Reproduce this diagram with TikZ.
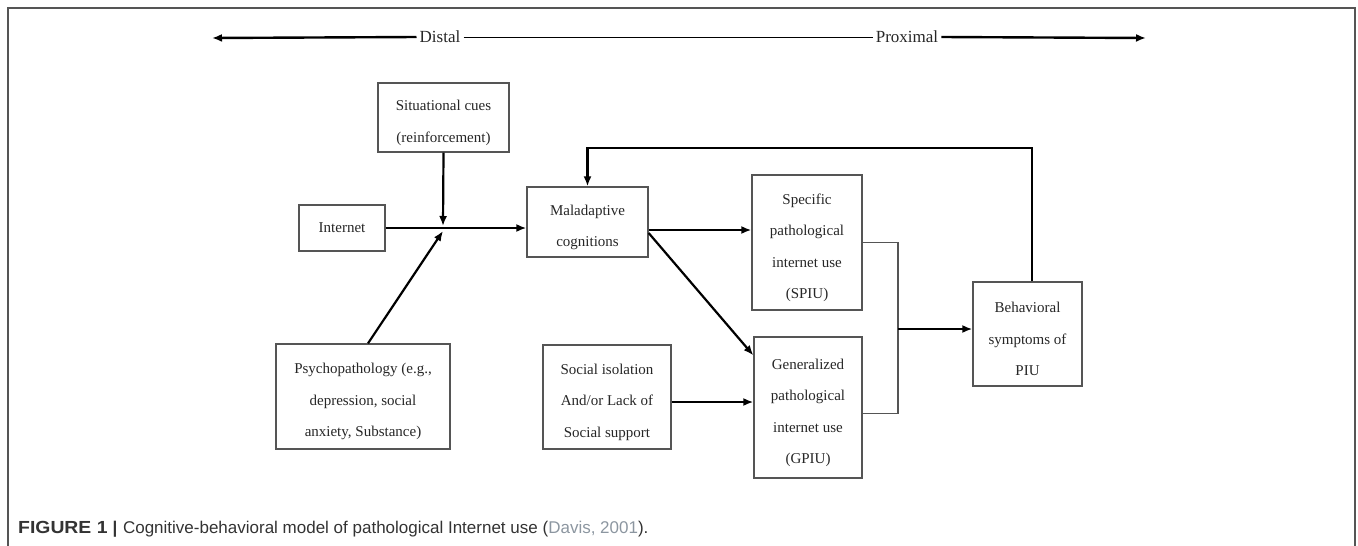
\documentclass[tikz,border=0pt]{standalone}
\usepackage{fontspec}
\setmainfont{Liberation Serif}
\newfontfamily\capfont{Liberation Sans}
\usetikzlibrary{arrows.meta,calc}
\definecolor{boxgray}{HTML}{555555}
\definecolor{framegray}{HTML}{555555}
\definecolor{capgray}{HTML}{333333}
\definecolor{citegray}{HTML}{8C96A0}
\newcommand{\tstrut}{\rule{0pt}{21pt}}
\begin{document}
\begin{tikzpicture}[x=1pt,y=-1pt,
  box/.style={draw=boxgray,line width=1.3pt,align=center,inner sep=0pt,
    font=\fontsize{15}{31.5}\selectfont,text=black!85},
  arr/.style={line width=2.2pt,-{Latex[length=10pt,width=8pt]}},
  thinline/.style={draw=boxgray,line width=1.3pt},
  headarr/.style={line width=2.4pt,-{Latex[length=10pt,width=8pt]}},
  lbl/.style={font=\fontsize{17}{20}\selectfont,inner sep=3pt,text=black!85}
]
\useasboundingbox (0,0) rectangle (1358,546);
% frame
\draw[framegray,line width=2pt] (8,546) -- (8,8) -- (1355,8) -- (1355,546);

% distal / proximal axis
\node[lbl] (distal) at (440,37) {Distal};
\node[lbl] (prox) at (907,37) {Proximal};
\coordinate (axL) at (212,38);
\coordinate (axR) at (1146,38);
\draw[headarr] (distal.west) -- (axL);
\draw[line width=1pt] (distal.east) -- (prox.west);
\draw[headarr] (prox.east) -- (axR);

% boxes
\node[box,minimum width=131pt,minimum height=69pt] (sit) at (443.5,117.5) {\tstrut Situational cues\\(reinforcement)};
\node[box,minimum width=86pt,minimum height=46pt] (inet) at (342,228) {Internet};
\node[box,minimum width=121pt,minimum height=70pt] (mal) at (587.5,222) {\tstrut Maladaptive\\cognitions};
\node[box,minimum width=174pt,minimum height=105pt] (psy) at (363,396.5) {\tstrut Psychopathology (e.g.,\\depression, social\\anxiety, Substance)};
\node[box,minimum width=128pt,minimum height=104pt] (soc) at (607,397) {\tstrut Social isolation\\And/or Lack of\\Social support};
\node[box,minimum width=110pt,minimum height=135pt] (spiu) at (807,242.5) {\tstrut Specific\\pathological\\internet use\\(SPIU)};
\node[box,minimum width=108pt,minimum height=141pt] (gpiu) at (808,407.5) {\tstrut Generalized\\pathological\\internet use\\(GPIU)};
\node[box,minimum width=109pt,minimum height=104pt] (beh) at (1027.5,334) {\tstrut Behavioral\\symptoms of\\PIU};

% junction
\coordinate (J) at (443,227);
\draw[arr] (sit.south) -- ($(J)+(0,-1)$);
\draw[arr] (inet.east) -- (inet.east -| mal.west);
\draw[arr] ([xshift=5pt]psy.north) -- ($(J)+(0,4)$);

% maladaptive outputs
\path ([yshift=-8pt]mal.east) coordinate (m1);
\draw[arr] (m1) -- (m1 -| spiu.west);
\draw[arr] ([yshift=-11pt]mal.east) -- ([yshift=-19pt]gpiu.north west);

% social -> gpiu
\path ([yshift=-5pt]soc.east) coordinate (s1);
\draw[arr] (s1) -- (s1 -| gpiu.west);

% bracket
\coordinate (bx) at (898,329);
\draw[thinline] (spiu.east) -| (bx) |- ([yshift=-6pt]gpiu.east);
\draw[arr] (bx) -- (bx -| beh.west);

% feedback
\coordinate (fb) at (800,148);
\draw[arr] ([xshift=4.5pt]beh.north) |- (fb) -| (mal.north);

% caption
\node[anchor=base west,inner sep=0pt,font=\capfont\fontsize{17}{19}\selectfont,text=capgray] (cap) at (18,533)
  {\scalebox{1.14}[1.03]{\textbf{FIGURE 1}}\hspace{5pt}\textbf{|}\hspace{1pt} Cognitive-behavioral model of pathological Internet use (\textcolor{citegray}{Davis, 2001}).};
\end{tikzpicture}
\end{document}
